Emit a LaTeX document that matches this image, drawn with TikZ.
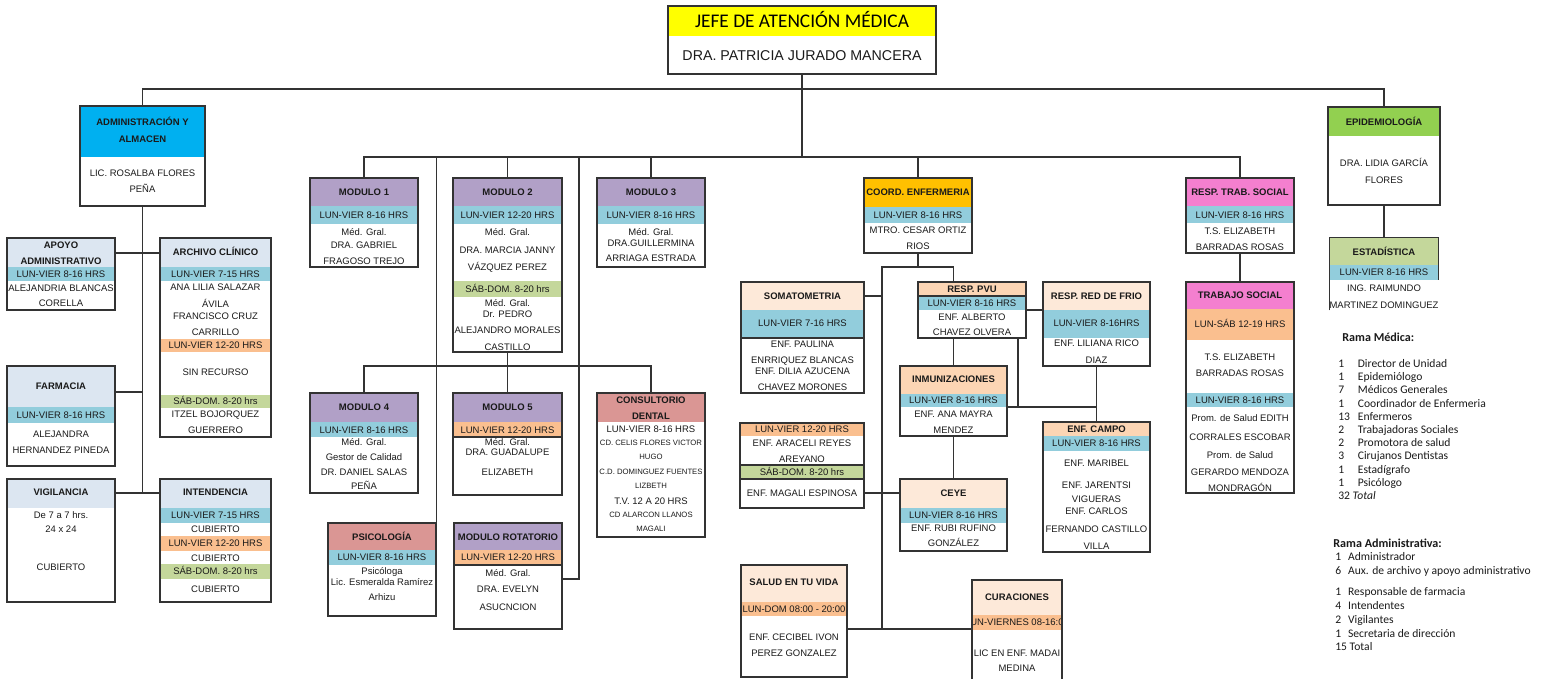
\documentclass[tikz,border=0pt]{standalone}
\usepackage{fontspec}
\setmainfont{Liberation Sans}
\newfontfamily\calibfont{Carlito}
\usepackage{tikz}
\usetikzlibrary{fit,positioning}
\definecolor{linecol}{HTML}{333333}
\definecolor{txtcol}{HTML}{1A1A1A}
\definecolor{jefeyel}{HTML}{FFFF00}
\definecolor{admblue}{HTML}{00B0F0}
\definecolor{grayblue}{HTML}{DCE6F1}
\definecolor{bandblue}{HTML}{92CDDC}
\definecolor{bandora}{HTML}{FABF8F}
\definecolor{bandgrn}{HTML}{C4D79B}
\definecolor{modpurp}{HTML}{B1A0C7}
\definecolor{rosered}{HTML}{DA9694}
\definecolor{coordgold}{HTML}{FFC000}
\definecolor{peachlt}{HTML}{FDE9D9}
\definecolor{peachmd}{HTML}{FCD5B4}
\definecolor{tspink}{HTML}{F47FCF}
\definecolor{epigrn}{HTML}{92D050}

\begin{document}
\begin{tikzpicture}[x=0.02cm, y=-0.02cm,
  box/.style={draw=linecol, line width=0.8pt, inner sep=0pt},
  wire/.style={draw=linecol, line width=0.8pt},
  tx/.style={font=\fontsize{5.4}{6}\selectfont, text=txtcol, inner sep=0pt,
             text height=4pt, text depth=0pt},
  hd/.style={tx, font=\fontsize{5.4}{6}\selectfont\bfseries},
  sm/.style={tx, font=\fontsize{4.4}{5}\selectfont, text height=3.2pt},
  legd/.style={font=\calibfont\fontsize{6.6}{7.5}\selectfont, text=txtcol,
               inner sep=0pt, anchor=base west},
  legh/.style={legd, font=\calibfont\bfseries\fontsize{6.9}{7.5}\selectfont}
]
\useasboundingbox (0,0) rectangle (1548,679);

% jefe
\fill[jefeyel] (668,6) rectangle (936,36);
\node[font=\calibfont\fontsize{11}{13}\selectfont, text=black, inner sep=0pt,
      text height=7pt, text depth=0pt] (jefe1) at (802,21) {JEFE DE ATENCIÓN MÉDICA};
\node[tx, font=\fontsize{8.1}{9}\selectfont, text height=5.8pt] (jefe2) at (802,55) {DRA. PATRICIA JURADO MANCERA};
\node[box, fit={(668,6) (936,74)}] (jefe) {};

% administracion
\fill[admblue] (80,106) rectangle (205,157);
\node[hd] (admin1) at (142.5,122) {ADMINISTRACIÓN Y};
\node[hd] (admin2) at (142.5,139) {ALMACEN};
\node[tx] (admin3) at (142.5,173) {LIC. ROSALBA FLORES};
\node[tx] (admin4) at (142.5,189) {PEÑA};
\node[box, fit={(80,106) (205,206)}] (admin) {};

\fill[grayblue] (7,238) rectangle (115,267);
\fill[bandblue] (7,267) rectangle (115,281);
\node[hd] (apoyo1) at (61,245) {APOYO};
\node[hd] (apoyo2) at (61,261) {ADMINISTRATIVO};
\node[tx] (apoyo3) at (61,274) {LUN-VIER 8-16 HRS};
\node[tx] (apoyo4) at (61,288) {ALEJANDRIA BLANCAS};
\node[tx] (apoyo5) at (61,303) {CORELLA};
\node[box, fit={(7,238) (115,310)}] (apoyo) {};

\fill[grayblue] (160,238) rectangle (271,267);
\fill[bandblue] (160,267) rectangle (271,281);
\fill[bandora] (160,339) rectangle (271,352);
\fill[bandgrn] (160,395) rectangle (271,408);
\node[hd] (arch1) at (215.5,252) {ARCHIVO CLÍNICO};
\node[tx] (arch2) at (215.5,274) {LUN-VIER 7-15 HRS};
\node[tx] (arch3) at (215.5,287) {ANA LILIA SALAZAR};
\node[tx] (arch4) at (215.5,304) {ÁVILA};
\node[tx] (arch5) at (215.5,316) {FRANCISCO CRUZ};
\node[tx] (arch6) at (215.5,332) {CARRILLO};
\node[tx] (arch7) at (215.5,345) {LUN-VIER 12-20 HRS};
\node[tx] (arch8) at (215.5,372) {SIN RECURSO};
\node[tx] (arch9) at (215.5,401) {SÁB-DOM. 8-20 hrs};
\node[tx] (arch10) at (215.5,414) {ITZEL BOJORQUEZ};
\node[tx] (arch11) at (215.5,430) {GUERRERO};
\node[box, fit={(160,238) (271,437)}] (archivo) {};

\fill[grayblue] (7,366) rectangle (115,407);
\fill[bandblue] (7,407) rectangle (115,423);
\node[hd] (farma1) at (61,386) {FARMACIA};
\node[tx] (farma2) at (61,415) {LUN-VIER 8-16 HRS};
\node[tx] (farma3) at (61,434) {ALEJANDRA};
\node[tx] (farma4) at (61,450) {HERNANDEZ PINEDA};
\node[box, fit={(7,366) (115,466)}] (farma) {};

\fill[grayblue] (7,479) rectangle (115,508);
\node[hd] (vigil1) at (61,492) {VIGILANCIA};
\node[tx] (vigil2) at (61,515) {De 7 a 7 hrs.};
\node[tx] (vigil3) at (61,529) {24 x 24};
\node[tx] (vigil4) at (61,567) {CUBIERTO};
\node[box, fit={(7,479) (115,602)}] (vigil) {};

\fill[grayblue] (160,479) rectangle (271,508);
\fill[bandblue] (160,508) rectangle (271,523);
\fill[bandora] (160,536) rectangle (271,551);
\fill[bandgrn] (160,564) rectangle (271,579);
\node[hd] (inten1) at (215.5,492) {INTENDENCIA};
\node[tx] (inten2) at (215.5,515) {LUN-VIER 7-15 HRS};
\node[tx] (inten3) at (215.5,529) {CUBIERTO};
\node[tx] (inten4) at (215.5,543) {LUN-VIER 12-20 HRS};
\node[tx] (inten5) at (215.5,558) {CUBIERTO};
\node[tx] (inten6) at (215.5,571) {SÁB-DOM. 8-20 hrs};
\node[tx] (inten7) at (215.5,589) {CUBIERTO};
\node[box, fit={(160,479) (271,602)}] (inten) {};

% modulos
\fill[modpurp] (310,178) rectangle (418,206);
\fill[bandblue] (310,206) rectangle (418,224);
\node[hd] (mod1a) at (364,192) {MODULO 1};
\node[tx] (mod1b) at (364,215) {LUN-VIER 8-16 HRS};
\node[tx] (mod1c) at (364,232) {Méd. Gral.};
\node[tx] (mod1d) at (364,245) {DRA. GABRIEL};
\node[tx] (mod1e) at (364,261) {FRAGOSO TREJO};
\node[box, fit={(310,178) (418,267)}] (mod1) {};

\fill[modpurp] (453,178) rectangle (562,206);
\fill[bandblue] (453,206) rectangle (562,224);
\fill[bandgrn] (453,281) rectangle (562,297);
\node[hd] (mod2a) at (507.5,192) {MODULO 2};
\node[tx] (mod2b) at (507.5,215) {LUN-VIER 12-20 HRS};
\node[tx] (mod2c) at (507.5,232) {Méd. Gral.};
\node[tx] (mod2d) at (507.5,250) {DRA. MARCIA JANNY};
\node[tx] (mod2e) at (507.5,267) {VÁZQUEZ PEREZ};
\node[tx] (mod2f) at (507.5,289) {SÁB-DOM. 8-20 hrs};
\node[tx] (mod2g) at (507.5,303) {Méd. Gral.};
\node[tx] (mod2h) at (507.5,314) {Dr. PEDRO};
\node[tx] (mod2i) at (507.5,330) {ALEJANDRO MORALES};
\node[tx] (mod2j) at (507.5,347) {CASTILLO};
\node[box, fit={(453,178) (562,352)}] (mod2) {};

\fill[modpurp] (597,178) rectangle (705,206);
\fill[bandblue] (597,206) rectangle (705,224);
\node[hd] (mod3a) at (651,192) {MODULO 3};
\node[tx] (mod3b) at (651,215) {LUN-VIER 8-16 HRS};
\node[tx] (mod3c) at (651,232) {Méd. Gral.};
\node[tx] (mod3d) at (651,243) {DRA.GUILLERMINA};
\node[tx] (mod3e) at (651,258) {ARRIAGA ESTRADA};
\node[box, fit={(597,178) (705,267)}] (mod3) {};

\fill[modpurp] (310,393) rectangle (418,422);
\fill[bandblue] (310,422) rectangle (418,437);
\node[hd] (mod4a) at (364,407) {MODULO 4};
\node[tx] (mod4b) at (364,430) {LUN-VIER 8-16 HRS};
\node[tx] (mod4c) at (364,442) {Méd. Gral.};
\node[tx] (mod4d) at (364,457) {Gestor de Calidad};
\node[tx] (mod4e) at (364,472) {DR. DANIEL SALAS};
\node[tx] (mod4f) at (364,486) {PEÑA};
\node[box, fit={(310,393) (418,493)}] (mod4) {};

\fill[modpurp] (453,393) rectangle (562,422);
\fill[bandora] (453,422) rectangle (562,437);
\draw[wire] (453,437) -- (562,437);
\node[hd] (mod5a) at (507.5,407) {MODULO 5};
\node[tx] (mod5b) at (507.5,430) {LUN-VIER 12-20 HRS};
\node[tx] (mod5c) at (507.5,442) {Méd. Gral.};
\node[tx] (mod5d) at (507.5,452) {DRA. GUADALUPE};
\node[tx] (mod5e) at (507.5,472) {ELIZABETH};
\node[box, fit={(453,393) (562,495)}] (mod5) {};

\fill[rosered] (597,393) rectangle (705,422);
\node[hd] (dent1) at (651,400) {CONSULTORIO};
\node[hd] (dent2) at (651,416) {DENTAL};
\node[tx] (dent3) at (651,429) {LUN-VIER 8-16 HRS};
\node[sm] (dent4) at (651,443) {CD. CELIS FLORES VICTOR};
\node[sm] (dent5) at (651,457) {HUGO};
\node[sm] (dent6) at (651,472) {C.D. DOMINGUEZ FUENTES};
\node[sm] (dent7) at (651,486) {LIZBETH};
\node[tx] (dent8) at (651,501) {T.V. 12 A 20 HRS};
\node[sm] (dent9) at (651,515) {CD ALARCON LLANOS};
\node[sm] (dent10) at (651,529) {MAGALI};
\node[box, fit={(597,393) (705,537)}] (dental) {};

\fill[rosered] (328,523) rectangle (436,550);
\fill[bandblue] (328,550) rectangle (436,565);
\node[hd] (psico1) at (382,537) {PSICOLOGÍA};
\node[tx] (psico2) at (382,557) {LUN-VIER 8-16 HRS};
\node[tx] (psico3) at (382,571) {Psicóloga};
\node[tx] (psico4) at (382,582) {Lic. Esmeralda Ramírez};
\node[tx] (psico5) at (382,597) {Arhizu};
\node[box, fit={(328,523) (436,616)}] (psico) {};

\fill[modpurp] (454,523) rectangle (562,550);
\fill[bandora] (454,550) rectangle (562,565);
\draw[wire] (454,565) -- (562,565);
\node[hd] (rotat1) at (508,537) {MODULO ROTATORIO};
\node[tx] (rotat2) at (508,557) {LUN-VIER 12-20 HRS};
\node[tx] (rotat3) at (508,573) {Méd. Gral.};
\node[tx] (rotat4) at (508,589) {DRA. EVELYN};
\node[tx] (rotat5) at (508,607) {ASUCNCION};
\node[box, fit={(454,523) (562,629)}] (rotat) {};

% enfermeria
\fill[coordgold] (864,178) rectangle (972,207);
\fill[bandblue] (864,207) rectangle (972,223);
\node[hd] (coord1) at (918,192) {COORD. ENFERMERIA};
\node[tx] (coord2) at (918,215) {LUN-VIER 8-16 HRS};
\node[tx] (coord3) at (918,230) {MTRO. CESAR ORTIZ};
\node[tx] (coord4) at (918,246) {RIOS};
\node[box, fit={(864,178) (972,253)}] (coord) {};

\fill[peachlt] (741,282) rectangle (864,310);
\fill[bandblue] (741,310) rectangle (864,338);
\draw[wire] (741,338) -- (864,338);
\node[hd] (soma1) at (802.5,296) {SOMATOMETRIA};
\node[tx] (soma2) at (802.5,323) {LUN-VIER 7-16 HRS};
\node[tx] (soma3) at (802.5,344) {ENF. PAULINA};
\node[tx] (soma4) at (802.5,360) {ENRRIQUEZ BLANCAS};
\node[tx] (soma5) at (802.5,371) {ENF. DILIA AZUCENA};
\node[tx] (soma6) at (802.5,387) {CHAVEZ MORONES};
\node[box, fit={(741,282) (864,393)}] (soma) {};

\fill[peachmd] (918,282) rectangle (1026,296);
\fill[bandblue] (918,296) rectangle (1026,310);
\draw[wire] (918,296) -- (1026,296);
\node[hd] (pvu1) at (972,289) {RESP. PVU};
\node[tx] (pvu2) at (972,303) {LUN-VIER 8-16 HRS};
\node[tx] (pvu3) at (972,317) {ENF. ALBERTO};
\node[tx] (pvu4) at (972,332) {CHAVEZ OLVERA};
\node[box, fit={(918,282) (1026,338)}] (pvu) {};

\fill[peachlt] (1043,282) rectangle (1150,310);
\fill[bandblue] (1043,310) rectangle (1150,338);
\node[hd] (frio1) at (1096.5,296) {RESP. RED DE FRIO};
\node[tx] (frio2) at (1096.5,323) {LUN-VIER 8-16HRS};
\node[tx] (frio3) at (1096.5,343) {ENF. LILIANA RICO};
\node[tx] (frio4) at (1096.5,360) {DIAZ};
\node[box, fit={(1043,282) (1150,366)}] (frio) {};

\fill[peachmd] (900,366) rectangle (1007,394);
\fill[bandblue] (900,394) rectangle (1007,407);
\node[hd] (inmun1) at (953.5,379) {INMUNIZACIONES};
\node[tx] (inmun2) at (953.5,400) {LUN-VIER 8-16 HRS};
\node[tx] (inmun3) at (953.5,414) {ENF. ANA MAYRA};
\node[tx] (inmun4) at (953.5,430) {MENDEZ};
\node[box, fit={(900,366) (1007,436)}] (inmun) {};

\fill[peachlt] (900,479) rectangle (1007,508);
\fill[bandblue] (900,508) rectangle (1007,523);
\node[hd] (ceye1) at (953.5,493) {CEYE};
\node[tx] (ceye2) at (953.5,515) {LUN-VIER 8-16 HRS};
\node[tx] (ceye3) at (953.5,528) {ENF. RUBI RUFINO};
\node[tx] (ceye4) at (953.5,543) {GONZÁLEZ};
\node[box, fit={(900,479) (1007,551)}] (ceye) {};

\fill[bandora] (740,423) rectangle (864,436);
\fill[bandgrn] (740,465) rectangle (864,479);
\draw[wire] (740,465) -- (864,465) (740,479) -- (864,479);
\node[tx] (arac1) at (802,429) {LUN-VIER 12-20 HRS};
\node[tx] (arac2) at (802,443) {ENF. ARACELI REYES};
\node[tx] (arac3) at (802,459) {AREYANO};
\node[tx] (arac4) at (802,472) {SÁB-DOM. 8-20 hrs};
\node[tx] (arac5) at (802,493) {ENF. MAGALI ESPINOSA};
\node[box, fit={(740,423) (864,508)}] (arac) {};

\fill[peachmd] (1043,422) rectangle (1150,436);
\fill[bandblue] (1043,436) rectangle (1150,451);
\node[hd] (campo1) at (1096.5,429) {ENF. CAMPO};
\node[tx] (campo2) at (1096.5,443) {LUN-VIER 8-16 HRS};
\node[tx] (campo3) at (1096.5,463) {ENF. MARIBEL};
\node[tx] (campo4) at (1096.5,485) {ENF. JARENTSI};
\node[tx] (campo5) at (1096.5,499) {VIGUERAS};
\node[tx] (campo6) at (1096.5,511) {ENF. CARLOS};
\node[tx] (campo7) at (1096.5,529) {FERNANDO CASTILLO};
\node[tx] (campo8) at (1096.5,546) {VILLA};
\node[box, fit={(1043,422) (1150,552)}] (campo) {};

\fill[peachlt] (741,565) rectangle (847,602);
\fill[bandora] (741,602) rectangle (847,616);
\node[hd] (salud1) at (794,582) {SALUD EN TU VIDA};
\node[tx] (salud2) at (794,609) {LUN-DOM 08:00 - 20:00};
\node[tx] (salud3) at (794,637) {ENF. CECIBEL IVON};
\node[tx] (salud4) at (794,653) {PEREZ GONZALEZ};
\node[box, fit={(741,565) (847,677)}] (salud) {};

\begin{scope}
  \clip (972,580) rectangle (1062,700);
  \fill[peachlt] (972,580) rectangle (1062,615);
  \fill[bandora] (972,615) rectangle (1062,630);
  \node[hd] (curac1) at (1017,597) {CURACIONES};
  \node[tx] (curac2) at (1017,622) {LUN-VIERNES 08-16:00};
  \node[tx] (curac3) at (1017,653) {LIC EN ENF. MADAI};
  \node[tx] (curac4) at (1017,668) {MEDINA};
\end{scope}
\node[box, fit={(972,580) (1062,700)}] (curac) {};

% trabajo social
\fill[tspink] (1186,178) rectangle (1294,206);
\fill[bandblue] (1186,206) rectangle (1294,223);
\node[hd] (trab1a) at (1240,192) {RESP. TRAB. SOCIAL};
\node[tx] (trab1b) at (1240,215) {LUN-VIER 8-16 HRS};
\node[tx] (trab1c) at (1240,231) {T.S. ELIZABETH};
\node[tx] (trab1d) at (1240,247) {BARRADAS ROSAS};
\node[box, fit={(1186,178) (1294,253)}] (trab1) {};

\fill[tspink] (1186,282) rectangle (1294,309);
\fill[bandora] (1186,309) rectangle (1294,340);
\fill[bandblue] (1186,393) rectangle (1294,407);
\node[hd] (trab2a) at (1240,295) {TRABAJO SOCIAL};
\node[tx] (trab2b) at (1240,324) {LUN-SÁB 12-19 HRS};
\node[tx] (trab2c) at (1240,357) {T.S. ELIZABETH};
\node[tx] (trab2d) at (1240,373) {BARRADAS ROSAS};
\node[tx] (trab2e) at (1240,400) {LUN-VIER 8-16 HRS};
\node[tx] (trab2f) at (1240,418) {Prom. de Salud EDITH};
\node[tx] (trab2g) at (1240,437) {CORRALES ESCOBAR};
\node[tx] (trab2h) at (1240,455) {Prom. de Salud};
\node[tx] (trab2i) at (1240,472) {GERARDO MENDOZA};
\node[tx] (trab2j) at (1240,488) {MONDRAGÓN};
\node[box, fit={(1186,282) (1294,493)}] (trab2) {};

% epidemiologia
\fill[epigrn] (1328,107) rectangle (1440,136);
\node[hd] (epi1) at (1384,122) {EPIDEMIOLOGÍA};
\node[tx] (epi2) at (1384,163) {DRA. LIDIA GARCÍA};
\node[tx] (epi3) at (1384,180) {FLORES};
\node[box, fit={(1328,107) (1440,205)}] (epi) {};

\fill[bandgrn] (1330,238) rectangle (1438,265);
\fill[bandblue] (1330,265) rectangle (1438,280);
\node[hd] (estad1) at (1384,252) {ESTADÍSTICA};
\node[tx] (estad2) at (1384,272) {LUN-VIER 8-16 HRS};
\node[tx] (estad3) at (1384,288) {ING. RAIMUNDO};
\node[tx] (estad4) at (1384,305) {MARTINEZ DOMINGUEZ};
\node[inner sep=0pt, fit={(1330,238) (1438,310)}] (estad) {};
\draw[wire] (estad.south west) |- (estad.north east) -- ++(0,42);

% leyenda
\node[legh] (medt) at (1342,341.7) {Rama Médica:};
\node[legd] (medl) at (1338,367.6) {\begin{tabular}[t]{@{}l@{\hspace{4.4pt}}l@{}}
1 & Director de Unidad\\
1 & Epidemiólogo\\
7 & Médicos Generales\\
1 & Coordinador de Enfermeria\\
13 & Enfermeros\\
2 & Trabajadoras Sociales\\
2 & Promotora de salud\\
3 & Cirujanos Dentistas\\
1 & Estadígrafo\\
1 & Psicólogo\\
\multicolumn{2}{@{}l@{}}{32 \textit{Total}}
\end{tabular}};
\node[legh] (admt) at (1333,547.7) {Rama Administrativa:};
\node[legd, font=\calibfont\fontsize{6.6}{7.9}\selectfont] (adml) at (1335,560.6) {\begin{tabular}[t]{@{}l@{\hspace{3.9pt}}l@{}}
1 & Administrador\\
6 & Aux. de archivo y apoyo administrativo\\[4pt]
1 & Responsable de farmacia\\
4 & Intendentes\\
2 & Vigilantes\\
1 & Secretaria de dirección\\
\multicolumn{2}{@{}l@{}}{15 Total}
\end{tabular}};

% conectores
\coordinate (busA) at (802,89);
\coordinate (busB) at (802,157);
\draw[wire] (jefe.south) -- (busB);
\draw[wire] (admin.north) |- (busA) -| (epi.north);
\draw[wire] (mod1.north) |- (busB) -| (trab1.north);
\draw[wire] (mod2.north) -- (mod2.north |- busB);
\draw[wire] (mod3.north) -- (mod3.north |- busB);
\draw[wire] (coord.north) -- (coord.north |- busB);
\draw[wire] (psico.north east |- busB) -- (psico.north east);
\coordinate (rotbend) at (579,579);
\draw[wire] (rotbend |- busB) -- (rotbend) -- (rotat.east |- rotbend);

\coordinate (busC) at (507.5,366);
\draw[wire] (mod2.south) -- (mod5.north);
\draw[wire] (mod4.north) |- (busC) -| (dental.north);

\coordinate (admap) at (142.5,253);
\coordinate (admfa) at (142.5,392);
\coordinate (admvi) at (142.5,493);
\draw[wire] (admin.south) -- (admvi);
\draw[wire] (apoyo.east |- admap) -- (archivo.west |- admap);
\draw[wire] (farma.east |- admfa) -- (admfa);
\draw[wire] (vigil.east |- admvi) -- (inten.west |- admvi);

\draw[wire] (epi.south) -- (estad.north);
\draw[wire] (trab1.south) -- (trab2.north);

\coordinate (nl) at (882,267);
\coordinate (nr) at (953.5,267);
\coordinate (nb) at (882,629);
\coordinate (ns) at (882,296);
\coordinate (na) at (882,493);
\draw[wire] (coord.south) -- (coord.south |- nl);
\draw[wire] (nr) -- (nl) -- (nb);
\draw[wire] (nr) -- (nr |- pvu.north);
\draw[wire] (soma.east |- ns) -- (ns);
\draw[wire] (arac.east |- na) -- (ceye.west |- na);
\draw[wire] (salud.east |- nb) -- (curac.west |- nb);
\draw[wire] (inmun.north) -- (inmun.north |- pvu.south);
\draw[wire] (inmun.south) -- (ceye.north);
\coordinate (pf) at (1030,310);
\draw[wire] (pvu.east |- pf) -- (frio.west |- pf);
\coordinate (ic) at (1018,407);
\draw[wire] (ic |- pvu.south) -- (ic);
\draw[wire] (inmun.east |- ic) -- (frio.south |- ic);
\draw[wire] (frio.south) -- (campo.north);
\end{tikzpicture}
\end{document}
